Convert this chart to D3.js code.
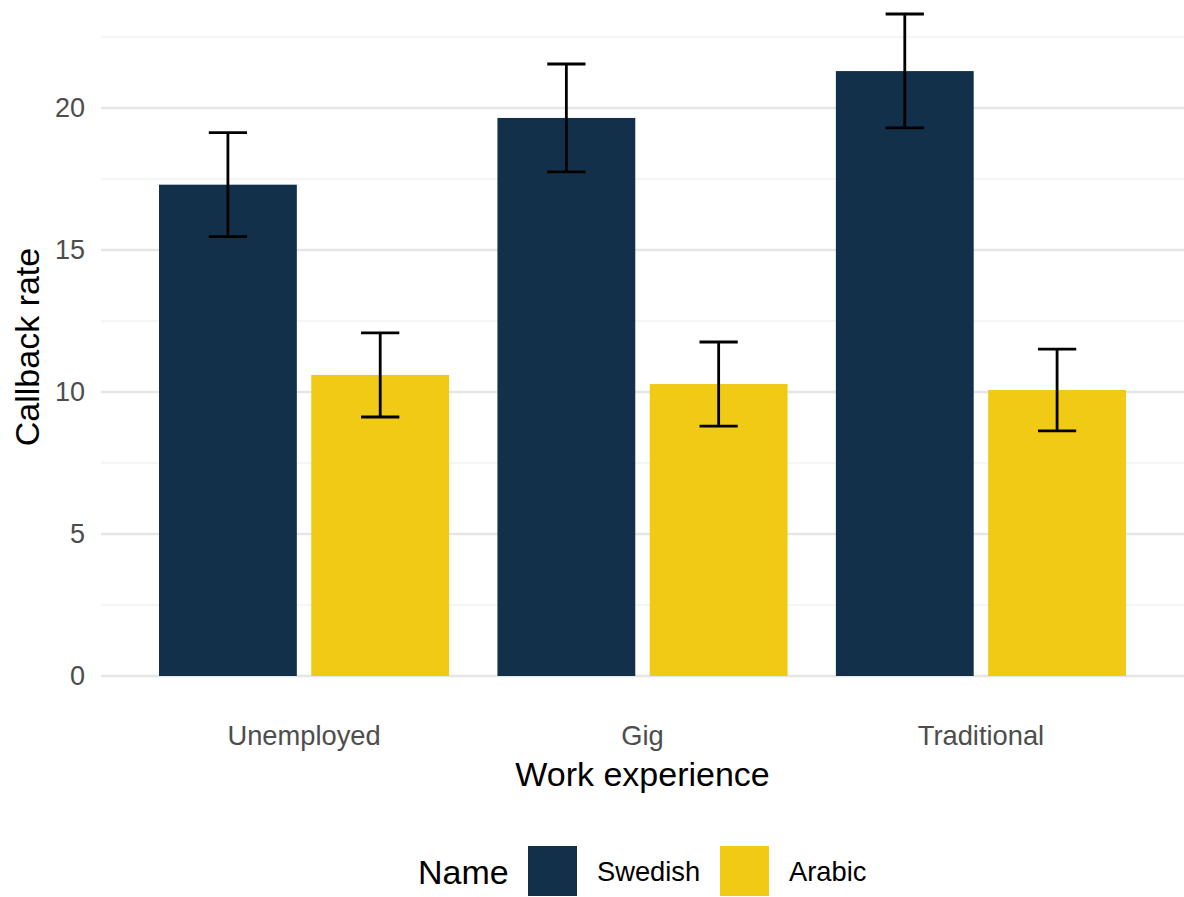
<!DOCTYPE html>
<html>
<head>
<meta charset="utf-8">
<script src="https://cdn.jsdelivr.net/npm/d3@7"></script>
<style>
  body { margin: 0; background: #fff; }
  text { font-family: "Liberation Sans", Arial, sans-serif; }
</style>
</head>
<body>
<svg id="chart" width="1184" height="897"></svg>
<script>
// data
const experience = ["Unemployed", "Gig", "Traditional"];
const names = ["Swedish", "Arabic"];
const swedishRate = [17.3, 19.65, 21.3];
const swedishLow = [15.47, 17.75, 19.3];
const swedishHigh = [19.13, 21.55, 23.31];
const arabicRate = [10.6, 10.28, 10.07];
const arabicLow = [9.12, 8.8, 8.63];
const arabicHigh = [12.08, 11.76, 11.51];
const yTicks = [0, 5, 10, 15, 20];
const yMinor = [2.5, 7.5, 12.5, 17.5, 22.5];
const colors = ["#13304A", "#F0CA15"];

const rows = [];
experience.forEach((e, i) => {
    rows.push({exp: e, name: "Swedish", rate: swedishRate[i], lo: swedishLow[i], hi: swedishHigh[i]});
    rows.push({exp: e, name: "Arabic", rate: arabicRate[i], lo: arabicLow[i], hi: arabicHigh[i]});
});

const svg = d3.select('#chart');
const panelLeft = 101, panelRight = 1184, panelTop = 5;

const x = d3.scalePoint().domain(experience).range([panelLeft, panelRight]).padding(0.6);
const step = x.step();
const inner = d3.scaleBand().domain(names).range([-0.45 * step, 0.45 * step]);
const y = d3.scaleLinear().domain([0, 20]).range([676, 108]);
const color = d3.scaleOrdinal().domain(names).range(colors);

// grid
svg.append('g').selectAll('line')
    .data(yMinor.filter(d => y(d) > panelTop))
    .enter().append('line')
    .attr('x1', panelLeft).attr('x2', panelRight)
    .attr('y1', d => y(d)).attr('y2', d => y(d))
    .attr('stroke', '#EBEBEB').attr('stroke-width', 1.2);
svg.append('g').selectAll('line')
    .data(yTicks)
    .enter().append('line')
    .attr('x1', panelLeft).attr('x2', panelRight)
    .attr('y1', d => y(d)).attr('y2', d => y(d))
    .attr('stroke', '#E6E6E6').attr('stroke-width', 2.4);

// bars
const bw = inner.bandwidth() * 0.905;
svg.append('g').selectAll('rect')
    .data(rows)
    .enter().append('rect')
    .attr('x', d => x(d.exp) + inner(d.name) + (inner.bandwidth() - bw) / 2)
    .attr('width', bw)
    .attr('y', d => y(d.rate))
    .attr('height', d => y(0) - y(d.rate))
    .attr('fill', d => color(d.name));

// error bars
const cap = step * 0.113;
const eb = svg.append('g').attr('stroke', '#000').attr('stroke-width', 2.8).attr('fill', 'none');
rows.forEach(d => {
    const cx = x(d.exp) + inner(d.name) + inner.bandwidth() / 2;
    eb.append('line').attr('x1', cx).attr('x2', cx).attr('y1', y(d.lo)).attr('y2', y(d.hi));
    eb.append('line').attr('x1', cx - cap / 2).attr('x2', cx + cap / 2).attr('y1', y(d.lo)).attr('y2', y(d.lo));
    eb.append('line').attr('x1', cx - cap / 2).attr('x2', cx + cap / 2).attr('y1', y(d.hi)).attr('y2', y(d.hi));
});

// axes text
svg.append('g').selectAll('text')
    .data(yTicks)
    .enter().append('text')
    .attr('x', 85).attr('y', d => y(d))
    .attr('text-anchor', 'end').attr('dominant-baseline', 'central')
    .attr('font-size', 27).attr('fill', '#4D4D4D')
    .text(d => d);
svg.append('g').selectAll('text')
    .data(experience)
    .enter().append('text')
    .attr('x', d => x(d)).attr('y', 735)
    .attr('text-anchor', 'middle').attr('dominant-baseline', 'central')
    .attr('font-size', 27.3).attr('fill', '#4D4D4D')
    .text(d => d);

svg.append('text')
    .attr('x', (panelLeft + panelRight) / 2).attr('y', 774)
    .attr('text-anchor', 'middle').attr('dominant-baseline', 'central')
    .attr('font-size', 34).attr('fill', '#000')
    .text('Work experience');
svg.append('text')
    .attr('transform', 'translate(27,347) rotate(-90)')
    .attr('text-anchor', 'middle').attr('dominant-baseline', 'central')
    .attr('font-size', 34).attr('fill', '#000')
    .text('Callback rate');

// legend
const lg = svg.append('g');
lg.append('text').attr('x', 418).attr('y', 872)
    .attr('dominant-baseline', 'central').attr('font-size', 34)
    .text('Name');
const keyX = [528, 720];
names.forEach((n, i) => {
    lg.append('rect').attr('x', keyX[i]).attr('y', 846).attr('width', 49).attr('height', 50)
        .attr('fill', color(n));
    lg.append('text').attr('x', keyX[i] + 69).attr('y', 871)
        .attr('dominant-baseline', 'central').attr('font-size', 27.3)
        .text(n);
});
</script>
</body>
</html>
